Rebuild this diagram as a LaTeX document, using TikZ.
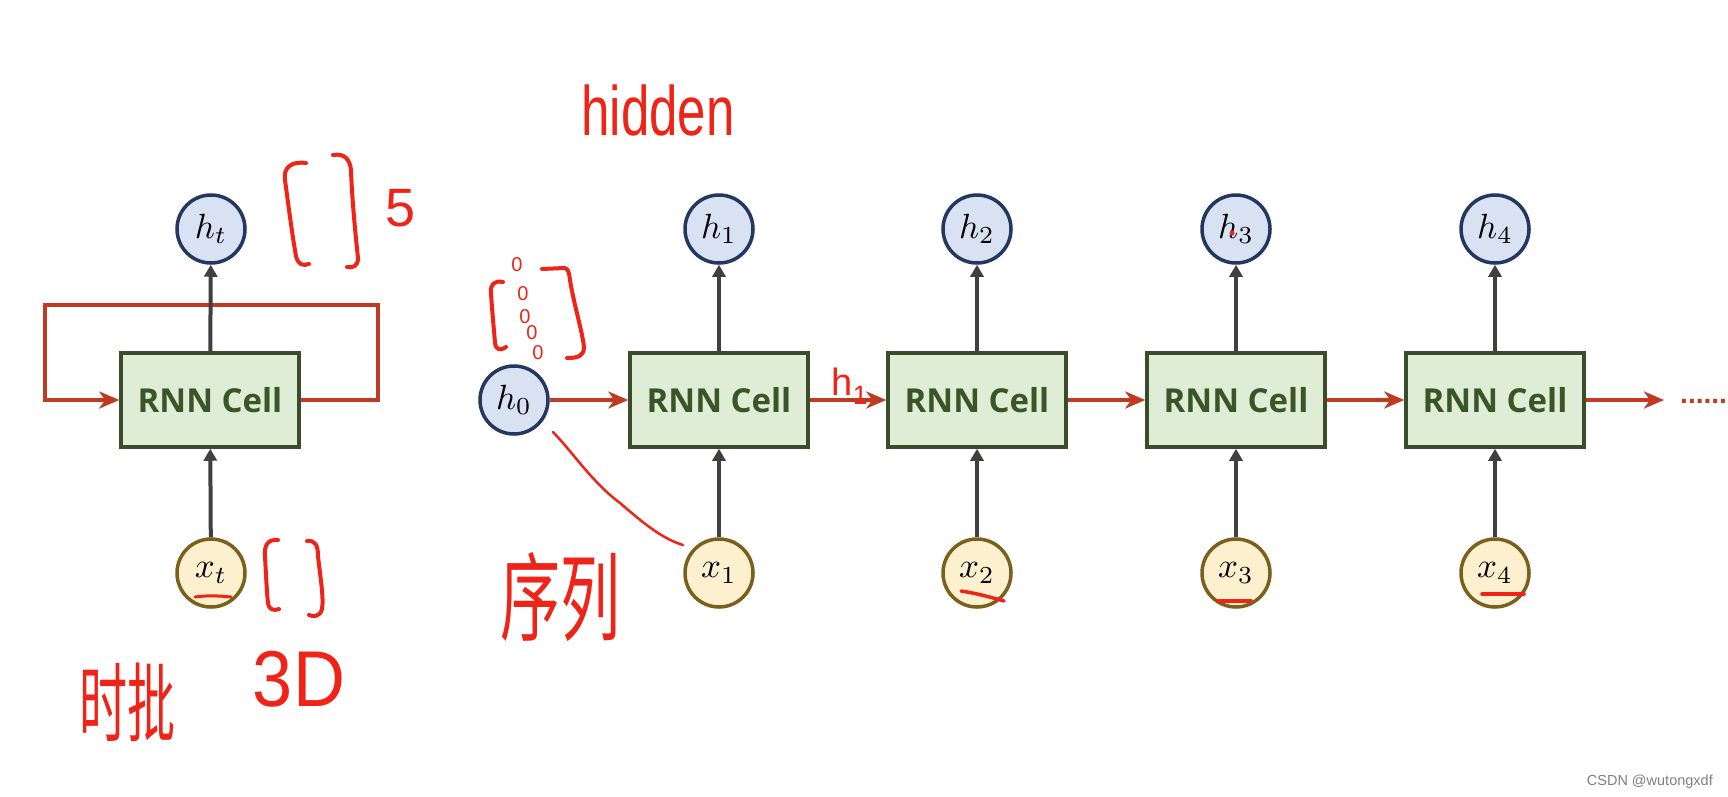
\documentclass[tikz,border=0pt]{standalone}
\usepackage{fontspec}
\newfontfamily\cellfont{Open Sans}
\newfontfamily\handfont{Liberation Sans}
\newfontfamily\cjk{Noto Sans CJK SC}
\usetikzlibrary{arrows.meta}
\newcommand{\mlab}[1]{\scalebox{3.5}{$#1$}}
\definecolor{hfill}{HTML}{D8E2F3}
\definecolor{hdraw}{HTML}{24375F}
\definecolor{xfill}{HTML}{FDF0CE}
\definecolor{xdraw}{HTML}{7A601C}
\definecolor{cfill}{HTML}{DFEDD7}
\definecolor{cdraw}{HTML}{3A4D28}
\definecolor{ctext}{HTML}{3A5526}
\definecolor{flow}{HTML}{BE3A22}
\definecolor{garrow}{HTML}{404040}
\definecolor{inkred}{HTML}{EE2418}
\definecolor{wmgray}{HTML}{808080}
\begin{document}
\begin{tikzpicture}[x=1pt,y=-1pt,
  hnode/.style={circle, draw=hdraw, fill=hfill, line width=3.5pt, minimum size=68pt, inner sep=0pt},
  xnode/.style={hnode, draw=xdraw, fill=xfill},
  cell/.style={rectangle, draw=cdraw, fill=cfill, line width=3.5pt, minimum width=178pt, minimum height=94pt, inner sep=0pt, text=ctext, font=\cellfont\bfseries\fontsize{33}{40}\selectfont},
  up/.style={draw=garrow, line width=4pt, -{Triangle[length=12pt,width=13pt]}},
  flowarrow/.style={draw=flow, line width=3.5pt, -{Stealth[length=20pt,width=17pt,inset=6pt]}},
  ink/.style={draw=inkred, line width=4pt, line cap=round, line join=round},
  inktext/.style={text=inkred, inner sep=0pt},
]
\useasboundingbox (0,0) rectangle (1728,796);
\fill[white] (0,0) rectangle (1728,796);

% ---- folded RNN ----
\node[cell] (c0) at (210,400) {RNN Cell};
\node[hnode] (ht) at (211,229) {\mlab{h_t}};
\node[xnode] (xt) at (211,573) {\mlab{x_t}};
\coordinate (loopR) at (378,305);
\coordinate (loopL) at (45,305);
\draw[flowarrow] (c0.east) -| (loopR) -- (loopL) |- (c0.west);
\draw[up] (c0) -- (ht);
\draw[up] (xt) -- (c0);

% ---- unrolled RNN ----
\node[hnode] (h0) at (514,400) {\mlab{h_0}};
\foreach \i/\x in {1/719,2/977,3/1236,4/1495}{
  \node[cell] (c\i) at (\x,400) {RNN Cell};
  \node[hnode] (h\i) at (\x,229) {\mlab{h_{\i}}};
  \node[xnode] (x\i) at (\x,573) {\mlab{x_{\i}}};
  \draw[up] (c\i) -- (h\i);
  \draw[up] (x\i) -- (c\i);
}
\draw[flowarrow] (h0) -- (c1);
\draw[flowarrow] (c1) -- (c2);
\draw[flowarrow] (c2) -- (c3);
\draw[flowarrow] (c3) -- (c4);
\coordinate (tail) at (1664,400);
\draw[flowarrow] (c4) -- (tail);
\node[text=flow, anchor=base west, inner sep=0pt] (dots) at (1680,403) {\handfont\bfseries\fontsize{28}{30}\selectfont ......};

% ---- handwritten annotations ----
\node[inktext] (hid) at (658,110) {\handfont\fontsize{50}{60}\selectfont\scalebox{1.02}[1.4]{hidden}};
% bracket near h_t
\draw[ink] (306,163) .. controls (291,161) and (283,168) .. (285,180) .. controls (289,210) and (293,240) .. (296,256) .. controls (298,265) and (303,266) .. (309,264);
\draw[ink] (333,155) .. controls (345,153) and (350,160) .. (351,170) .. controls (352,200) and (356,240) .. (358,258) .. controls (358,267) and (352,268) .. (347,267);
\node[inktext] (five) at (401,208) {\handfont\fontsize{54}{60}\selectfont 5};
% bracket near x_t
\draw[ink] (278,540) .. controls (268,539) and (264,545) .. (265,556) .. controls (266,575) and (267,595) .. (268,603) .. controls (269,610) and (274,611) .. (279,609);
\draw[ink] (307,541) .. controls (315,540) and (318,545) .. (318,556) .. controls (320,575) and (324,598) .. (322,609) .. controls (320,617) and (313,617) .. (309,615);
\draw[ink, line width=3pt] (195,597) .. controls (210,595) and (220,596) .. (231,597);
\node[inktext] (shipi) at (127,702) {\cjk\fontsize{48}{56}\selectfont\scalebox{1}[1.8]{时批}};
\node[inktext] (threed) at (299,679) {\handfont\fontsize{72}{80}\selectfont\scalebox{1}[1.1]{3D}};
% vector above h_0
\draw[ink] (503,282) .. controls (494,280) and (490,285) .. (491,293) .. controls (492,310) and (494,330) .. (495,343) .. controls (496,350) and (500,351) .. (506,347);
\draw[ink] (542,269) -- (564,268) .. controls (568,268) and (569,272) .. (570,280) .. controls (574,305) and (582,330) .. (584,347) .. controls (584,356) and (578,358) .. (567,358);
\foreach \n/\p in {a/{(517,265)},b/{(523,294)},c/{(525,317)},d/{(532,333)},e/{(538,353)}}{
  \node[inktext] (zero\n) at \p {\handfont\fontsize{20}{24}\selectfont 0};
}
% sequence annotation
\draw[ink, line width=2.5pt] (553,432) .. controls (575,455) and (592,482) .. (620,503) .. controls (640,520) and (660,538) .. (683,545);
\node[inktext] (xulie) at (560,597) {\cjk\fontsize{60}{70}\selectfont\scalebox{1}[1.6]{序列}};
% h1 on the arrow
\node[inktext, anchor=base] (hone) at (850,395) {\handfont\fontsize{38}{44}\selectfont h\textsubscript{1}};
% marks on h3 and x labels
\fill[inkred] (1232,233) circle (2.5);
\draw[ink, line width=3.5pt] (961,591) .. controls (975,593) and (990,597) .. (1004,601);
\draw[ink, line width=3.5pt] (1218,601) -- (1251,601);
\draw[ink, line width=3.5pt] (1482,594) -- (1524,594);

% watermark
\node[text=wmgray, anchor=base east, inner sep=0pt] (wm) at (1713,785) {\handfont\fontsize{14.5}{17}\selectfont CSDN @wutongxdf};
\end{tikzpicture}
\end{document}
